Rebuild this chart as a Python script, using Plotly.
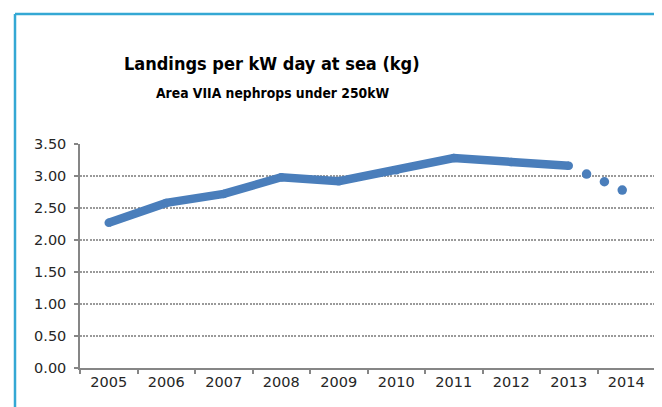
import plotly.graph_objects as go

years = [2005, 2006, 2007, 2008, 2009, 2010, 2011, 2012, 2013]
landings = [2.27, 2.58, 2.72, 2.98, 2.92, 3.09, 3.28, 3.22, 3.16]
proj_x = [2013.31, 2013.62, 2013.93]
proj_y = [3.03, 2.91, 2.78]
tick_years = [2005, 2006, 2007, 2008, 2009, 2010, 2011, 2012, 2013, 2014]
y_ticks = [0, 0.5, 1.0, 1.5, 2.0, 2.5, 3.0, 3.5]

BLUE = "#4A7EBB"
OFF = 8  # page body margin
W, H = 662 - OFF, 407 - OFF
L, R, T, B = 80 - OFF, 7, 144 - OFF, 39
PW, PH = W - L - R, H - T - B

def px_x(p):
    return (p - 80) / PW

def px_y(p):
    return (368 - p) / PH

fig = go.Figure()
fig.add_trace(go.Scatter(
    x=years, y=landings, mode="lines+markers",
    line=dict(color=BLUE, width=8.5),
    marker=dict(color=BLUE, size=8.5, line=dict(width=0)),
    hoverinfo="skip", showlegend=False))
fig.add_trace(go.Scatter(
    x=proj_x, y=proj_y, mode="markers",
    marker=dict(color=BLUE, size=9.5, line=dict(width=0)),
    hoverinfo="skip", showlegend=False))

fig.update_layout(
    width=W, height=H,
    margin=dict(l=L, r=R, t=T, b=B, pad=0),
    paper_bgcolor="white", plot_bgcolor="white",
    font=dict(family="DejaVu Sans", size=14.5, color="#262626"),
    xaxis=dict(
        range=[2004.5, 2014.5], tickvals=tick_years,
        ticktext=[str(y) for y in tick_years],
        ticks="outside", ticklen=0, tickcolor="rgba(0,0,0,0)",
        showgrid=False, zeroline=False,
        showline=True, linecolor="#868686", linewidth=1.5,
        minor=dict(tickvals=[y - 0.5 for y in tick_years] + [2014.5],
                   ticks="outside", ticklen=4, tickcolor="#868686",
                   tickwidth=1.5, showgrid=False),
        tickfont=dict(size=14.5, family="DejaVu Sans", color="#262626"),
    ),
    yaxis=dict(
        range=[0, 3.5], tickvals=y_ticks, tickformat=".2f",
        ticks="outside", ticklen=4, tickcolor="#868686", tickwidth=1.5,
        ticklabelstandoff=5,
        showgrid=True, gridcolor="#9a9a9a", gridwidth=1.5, griddash="2px,1.2px",
        zeroline=False, showline=True, linecolor="#868686", linewidth=1.5,
        tickfont=dict(size=14.5, family="DejaVu Sans", color="#262626"),
    ),
    shapes=[
        dict(type="line", xref="paper", yref="paper",
             x0=px_x(15), x1=px_x(700), y0=px_y(14), y1=px_y(14),
             line=dict(color="#34A8D4", width=2.5)),
        dict(type="line", xref="paper", yref="paper",
             x0=px_x(15), x1=px_x(15), y0=px_y(14), y1=px_y(450),
             line=dict(color="#34A8D4", width=2.5)),
    ],
    annotations=[
        dict(text="<b>Landings per kW day at sea (kg)</b>", xref="paper", yref="paper",
             x=px_x(272), y=px_y(64), xanchor="center", yanchor="middle",
             showarrow=False,
             font=dict(family="DejaVu Sans Condensed, sans-serif",
                       size=18, color="#000000")),
        dict(text="<b>Area VIIA nephrops under 250kW</b>", xref="paper", yref="paper",
             x=px_x(272), y=px_y(93), xanchor="center", yanchor="middle",
             showarrow=False,
             font=dict(family="DejaVu Sans Condensed, sans-serif",
                       size=13.8, color="#000000")),
    ],
)

fig.write_html("out.html")
